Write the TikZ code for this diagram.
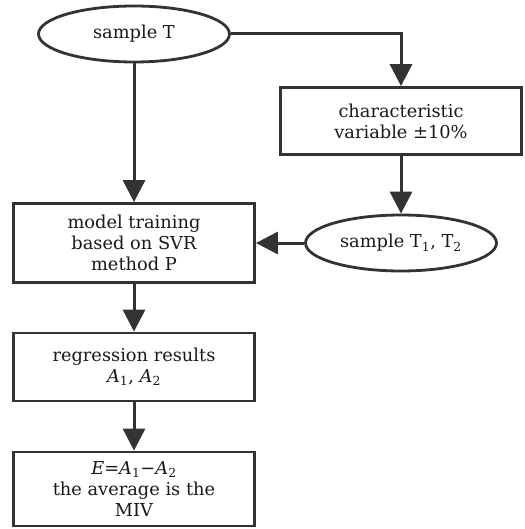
\documentclass[tikz,border=0pt]{standalone}
\usepackage{fontspec}
\setmainfont{DejaVu Serif}
\usetikzlibrary{shapes.geometric,arrows.meta}
\definecolor{ink}{HTML}{333333}
\begin{document}
\begin{tikzpicture}[x=1pt,y=-1pt,
  every node/.style={font=\fontsize{17.8}{21}\selectfont, text=black!90, align=center},
  boxnode/.style={draw=ink, line width=2.8pt, rectangle, inner sep=0pt},
  ovalnode/.style={draw=ink, line width=2.8pt, ellipse, inner sep=0pt, minimum width=191pt, minimum height=56pt},
  arr/.style={draw=ink, line width=3pt, -{Triangle[length=22pt,width=22pt]}}]
\useasboundingbox (0,0) rectangle (524,529);
\node[ovalnode] (t) at (134,34) {sample T};
\node[boxnode, minimum width=241pt, minimum height=67pt] (cv) at (401,121) {characteristic\\variable ±10\%};
\node[ovalnode] (t12) at (401,243) {sample T\textsubscript{1}, T\textsubscript{2}};
\node[boxnode, minimum width=241pt, minimum height=79pt] (mt) at (134,243) {model training\\based on SVR\\method P};
\node[boxnode, minimum width=241pt, minimum height=68pt] (rr) at (134,367) {regression results\\\textit{A}\textsubscript{1}, \textit{A}\textsubscript{2}};
\node[boxnode, minimum width=241pt, minimum height=74pt] (mv) at (134,489) {\textit{E}=\textit{A}\textsubscript{1}−\textit{A}\textsubscript{2}\\the average is the\\MIV};
\draw[arr] (t.east) -| (cv.north);
\draw[arr] (t.south) -- (mt.north);
\draw[arr] (cv.south) -- (t12.north);
\draw[arr] (t12.west) -- (mt.east);
\draw[arr] (mt.south) -- (rr.north);
\draw[arr] (rr.south) -- (mv.north);
\end{tikzpicture}
\end{document}
